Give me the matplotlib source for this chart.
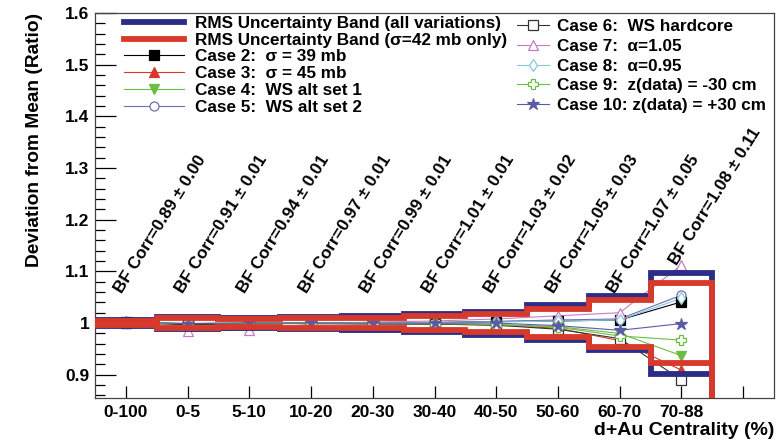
# %%
# ------------------------------------------------------------
# d+Au centrality: deviation from mean per Glauber variation
# ------------------------------------------------------------
import numpy as np
import matplotlib
matplotlib.use("Agg")
from matplotlib import pyplot as plt
from matplotlib.lines import Line2D

plt.rcParams["font.family"] = ["Liberation Sans", "DejaVu Sans"]
plt.rcParams["font.weight"] = "bold"

# %%
# ------------------------------------------------------------
# 1. Data
# ------------------------------------------------------------
centrality = ["0-100", "0-5", "5-10", "10-20", "20-30", "30-40",
              "40-50", "50-60", "60-70", "70-88"]

bf_corr = ["0.89", "0.91", "0.94", "0.97", "0.99", "1.01", "1.03", "1.05", "1.07", "1.08"]
bf_err = ["0.00", "0.01", "0.01", "0.01", "0.01", "0.01", "0.02", "0.03", "0.05", "0.11"]

# uncertainty bands (upper / lower edge per bin)
blue_up = [1.005, 1.011, 1.009, 1.012, 1.013, 1.017, 1.021, 1.034, 1.053, 1.097]
blue_lo = [0.995, 0.989, 0.991, 0.988, 0.987, 0.983, 0.977, 0.967, 0.948, 0.901]
red_up = [1.004, 1.010, 1.008, 1.009, 1.010, 1.013, 1.017, 1.027, 1.045, 1.078]
red_lo = [0.996, 0.990, 0.992, 0.991, 0.990, 0.987, 0.983, 0.973, 0.954, 0.922]

case2 = [1.002, 0.998, 0.999, 1.000, 1.000, 1.001, 1.003, 1.004, 1.006, 1.041]
case3 = [1.001, 0.999, 1.000, 0.999, 0.999, 0.998, 0.996, 0.990, 0.966, 0.909]
case4 = [1.001, 0.999, 1.000, 1.000, 0.999, 0.999, 0.997, 0.993, 0.980, 0.937]
case5 = [1.002, 0.998, 0.999, 1.000, 1.001, 1.001, 1.003, 1.006, 1.008, 1.054]
case6 = [1.000, 0.997, 0.999, 0.999, 0.998, 0.998, 0.996, 0.988, 0.970, 0.890]
case7 = [1.003, 0.985, 0.986, 0.998, 1.002, 1.004, 1.008, 1.014, 1.020, 1.112]
case8 = [1.002, 0.999, 1.000, 1.000, 1.000, 1.001, 1.002, 1.004, 1.006, 1.048]
case9 = [1.001, 0.999, 1.000, 1.000, 0.999, 0.999, 0.997, 0.992, 0.975, 0.967]
case10 = [1.002, 0.999, 1.000, 1.000, 1.000, 1.000, 1.000, 0.995, 0.986, 0.999]

# %%
# ------------------------------------------------------------
# 2. Styles
# ------------------------------------------------------------
RED = "#d7392b"
BLUE = "#2c2d86"
GREEN = "#6cbd45"

cases = [
    (case2, "Case 2:  \u03c3 = 39 mb", "black", "s", "black"),
    (case3, "Case 3:  \u03c3 = 45 mb", RED, "^", RED),
    (case4, "Case 4:  WS alt set 1", GREEN, "v", GREEN),
    (case5, "Case 5:  WS alt set 2", "#6b6fb8", "o", "white"),
    (case6, "Case 6:  WS hardcore", "#333333", "s", "white"),
    (case7, "Case 7:  \u03b1=1.05", "#c57dc0", "^", "white"),
    (case8, "Case 8:  \u03b1=0.95", "#86c9dc", "d", "white"),
    (case9, "Case 9:  z(data) = -30 cm", GREEN, "P", "white"),
    (case10, "Case 10: z(data) = +30 cm", "#5b5aa8", "*", "#5b5aa8"),
]

# %%
# ------------------------------------------------------------
# 3. Plot
# ------------------------------------------------------------
fig = plt.figure(figsize=(7.79, 4.48), dpi=100)
ax = fig.add_axes([95 / 779, 50 / 448, 679 / 779, 385 / 448])

ymin, ymax = 0.855, 1.6
x = np.arange(len(centrality))
edges = np.arange(len(centrality) + 1) - 0.5


def hist_outline(vals):
    # step outline like a ROOT histogram, dropping at the last edge
    xs = np.concatenate([[edges[0]], np.repeat(edges[1:-1], 2), [edges[-1], edges[-1]]])
    ys = np.concatenate([np.repeat(vals, 2), [0.8]])
    return xs, ys


# cases first, bands drawn on top (as in the original)
case_handles = []
for vals, label, col, mk, face in cases:
    ms = 9 if mk == "*" else 6.5
    ax.plot(x, vals, color=col, lw=0.8, zorder=1)
    ax.plot(x, vals, ls="none", marker=mk, ms=ms, mfc=face, mec=col, mew=0.9, zorder=1.5)
    case_handles.append(Line2D([], [], color=col, lw=0.8, marker=mk, ms=ms,
                               mfc=face, mec=col, mew=0.9, label=label))

for vals in (blue_up, blue_lo):
    ax.plot(*hist_outline(vals), color=BLUE, lw=4.2, solid_joinstyle="miter", zorder=2)
for vals in (red_up, red_lo):
    ax.plot(*hist_outline(vals), color=RED, lw=4.2, solid_joinstyle="miter", zorder=3)

# BF correction labels
for i in x:
    ytxt = 1.11 if i == len(x) - 1 else 1.056
    ax.text(i - 0.07, ytxt, f"BF Corr={bf_corr[i]} \u00b1 {bf_err[i]}",
            rotation=58, rotation_mode="anchor", ha="left", va="baseline",
            fontsize=12.3, fontweight="bold", zorder=6)

# %%
# ------------------------------------------------------------
# 4. Axes
# ------------------------------------------------------------
ax.set_xlim(-0.5, 10.5)
ax.set_ylim(ymin, ymax)
ax.set_xticks(np.arange(11))
ax.set_xticklabels(centrality + [""])
ax.set_yticks(np.arange(0.9, 1.61, 0.1))
ax.set_yticklabels(["0.9", "1", "1.1", "1.2", "1.3", "1.4", "1.5", "1.6"])
ax.set_yticks(np.arange(0.86, 1.6, 0.02), minor=True)
ax.tick_params(axis="y", which="major", direction="in", length=15, width=0.9, labelsize=12.5, pad=4)
ax.tick_params(axis="y", which="minor", direction="in", length=7, width=0.9)
ax.tick_params(axis="x", which="major", direction="in", length=9, width=0.9, labelsize=12.5, pad=5)
for s in ax.spines.values():
    s.set_color("#444444")
    s.set_linewidth(0.9)

ax.set_ylabel("Deviation from Mean (Ratio)", loc="top", fontsize=13.8, fontweight="bold")
ax.yaxis.set_label_coords(-0.077, 1.0)
ax.set_xlabel("d+Au Centrality (%)", loc="right", fontsize=14, fontweight="bold")
ax.xaxis.set_label_coords(1.0, -0.062)

# %%
# ------------------------------------------------------------
# 5. Legends
# ------------------------------------------------------------
band_handles = [
    Line2D([], [], color=BLUE, lw=4.2, label="RMS Uncertainty Band (all variations)"),
    Line2D([], [], color=RED, lw=4.2, label="RMS Uncertainty Band (\u03c3=42 mb only)"),
]
leg1 = ax.legend(handles=band_handles + case_handles[:4], loc="upper left",
                 bbox_to_anchor=(124 / 779, 1 - 16 / 448), bbox_transform=fig.transFigure,
                 frameon=False, fontsize=12.3, handlelength=3.5, handletextpad=0.65,
                 labelspacing=0.1, borderpad=0, borderaxespad=0)
ax.add_artist(leg1)
ax.legend(handles=case_handles[4:], loc="upper left",
          bbox_to_anchor=(517 / 779, 1 - 19 / 448), bbox_transform=fig.transFigure,
          frameon=False, fontsize=12.3, handlelength=1.85, handletextpad=0.5,
          labelspacing=0.28, borderpad=0, borderaxespad=0)

fig.savefig("out.png", dpi=100)
